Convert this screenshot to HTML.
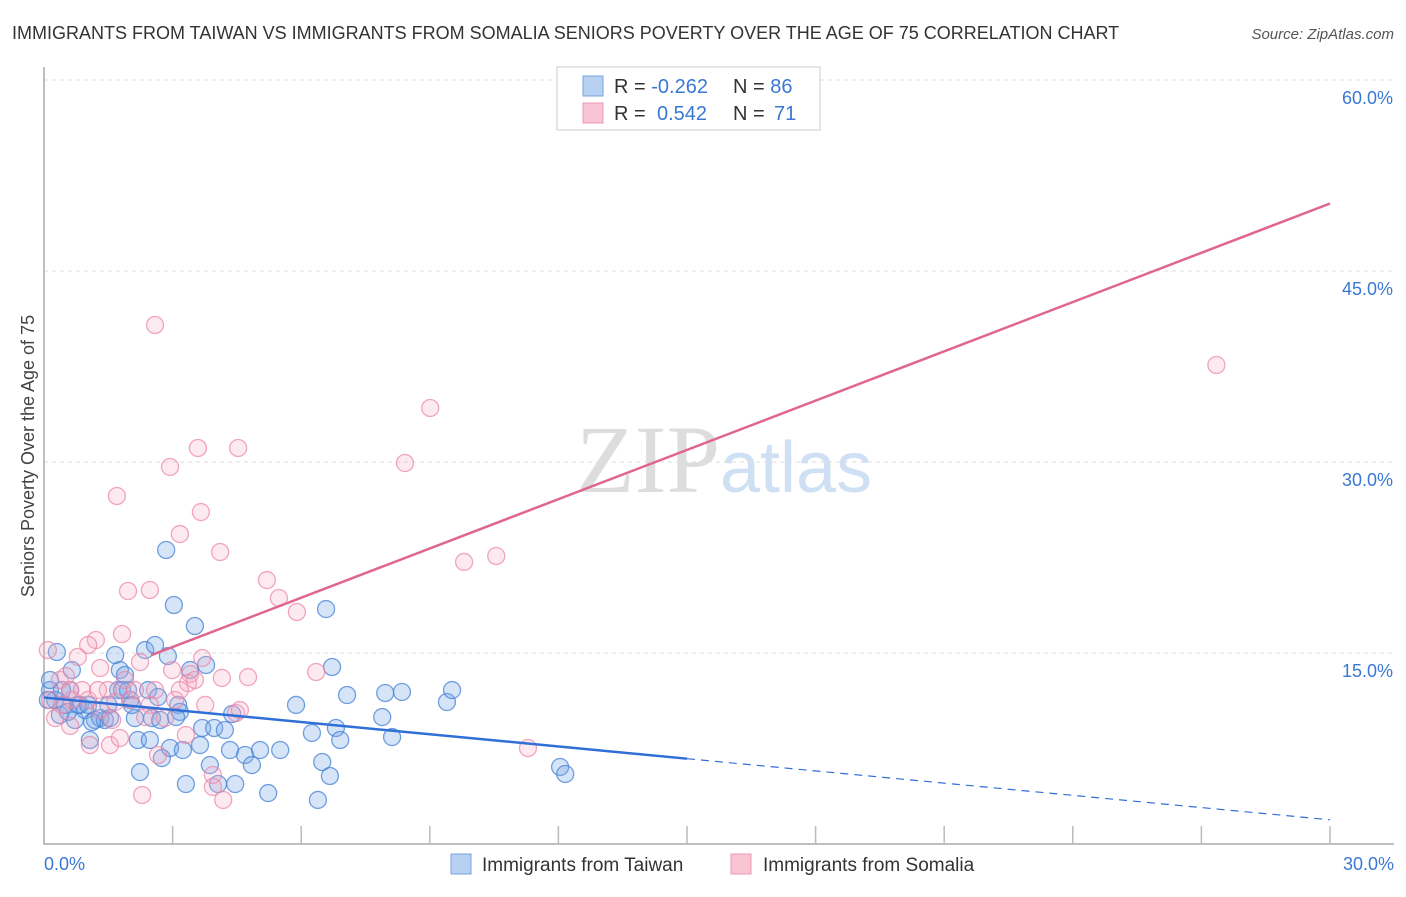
<!DOCTYPE html>
<html><head><meta charset="utf-8"><style>
body{margin:0;background:#fff;font-family:"Liberation Sans",sans-serif}
#c{position:relative;width:1406px;height:892px}
</style></head><body>
<div id="c">
<svg id="s" width="1406" height="892">
<text x="12" y="39" font-size="18" fill="#333">IMMIGRANTS FROM TAIWAN VS IMMIGRANTS FROM SOMALIA SENIORS POVERTY OVER THE AGE OF 75 CORRELATION CHART</text>
<text x="1394" y="39" font-size="15" fill="#555" font-style="italic" text-anchor="end">Source: ZipAtlas.com</text>
<text x="34" y="456" font-size="18" fill="#444" text-anchor="middle" transform="rotate(-90 34 456)">Seniors Poverty Over the Age of 75</text>
<text x="720" y="492" font-size="96" fill="#ddd" font-family="Liberation Serif,serif" text-anchor="end">ZIP</text>
<text x="720" y="492" font-size="72" fill="#cfe0f4">atlas</text>
<g id="grid"></g><g id="axes"></g><g id="pts"></g><g id="lines"></g>
<g>
<rect x="557" y="67" width="263" height="63" fill="#fff" stroke="#ccc"/>
<rect x="583" y="76" width="20" height="20" fill="#b8d0f2" stroke="#7aa3e0"/>
<rect x="583" y="103" width="20" height="20" fill="#f8c4d4" stroke="#eb98b4"/>
<text x="614" y="93" font-size="20" fill="#333">R = <tspan fill="#3a78d4">-0.262</tspan><tspan x="733">N = </tspan><tspan fill="#3a78d4">86</tspan></text>
<text x="614" y="120" font-size="20" fill="#333">R = <tspan x="657" fill="#3a78d4">0.542</tspan><tspan x="733">N = </tspan><tspan x="774" fill="#3a78d4">71</tspan></text>
</g>
<g>
<rect x="451" y="854" width="20" height="20" fill="#b8d0f2" stroke="#7aa3e0"/>
<text x="482" y="871" font-size="19" fill="#333">Immigrants from Taiwan</text>
<rect x="731" y="854" width="20" height="20" fill="#f8c4d4" stroke="#eb98b4"/>
<text x="763" y="871" font-size="19" fill="#333">Immigrants from Somalia</text>
</g>
</svg></div>
<script>
const yTicks=[15,30,45,60];
const xTickLabels=["0.0%","30.0%"];
const taiwanX=[0.30,0.14,0.26,0.37,0.49,0.61,0.65,0.72,0.84,0.96,1.07,1.19,1.31,1.42,1.54,1.66,1.73,1.77,1.89,1.96,2.01,2.12,2.19,2.24,2.36,2.43,2.47,2.52,2.59,2.66,2.71,2.75,2.85,2.94,3.03,3.13,3.17,3.24,3.31,3.41,3.52,3.64,3.69,3.87,3.97,4.06,4.22,4.34,4.46,4.69,4.85,5.04,5.23,5.51,5.88,6.25,6.39,6.49,6.58,6.67,6.72,6.81,6.91,7.07,7.89,7.96,8.12,8.35,9.40,9.52,12.04,12.16,0.14,0.09,0.42,0.56,0.79,1.03,1.12,1.50,1.82,2.05,2.89,3.08,3.78,4.39];
const taiwanY=[15.08,12.09,11.31,10.13,10.92,12.09,13.66,9.74,10.92,10.52,8.17,9.74,9.89,9.74,9.89,14.84,12.09,13.66,13.27,12.09,11.31,9.89,8.17,5.65,15.23,12.09,8.17,9.89,15.63,11.54,9.74,6.75,23.09,7.54,18.77,10.92,10.37,7.38,4.71,13.66,17.12,7.77,9.11,6.20,9.11,4.71,8.95,7.38,4.71,6.99,6.20,7.38,4.00,7.38,10.92,8.72,3.46,6.44,18.45,5.34,13.90,9.11,8.17,11.70,9.97,11.86,8.40,11.94,11.15,12.09,6.05,5.50,12.88,11.31,12.09,10.37,10.92,10.92,9.58,10.92,12.09,10.92,14.76,9.97,14.06,10.21];
const somaliaX=[2.59,14.04,27.35,9.01,8.42,3.59,4.53,2.94,1.70,3.66,3.17,4.11,9.80,10.55,1.96,2.47,5.20,5.48,5.90,1.82,1.21,1.03,0.09,0.79,1.31,2.24,2.99,3.41,3.69,4.76,4.15,6.35,0.37,0.61,0.89,1.49,2.01,2.47,3.06,3.36,3.76,2.82,4.48,0.26,0.61,1.07,1.54,1.77,2.66,3.31,3.94,3.94,4.18,2.29,11.29,0.14,0.42,1.31,1.89,3.52,2.36,1.59,1.66,1.03,0.65,3.17,2.59,4.57,1.26,2.12,0.51];
const somaliaY=[40.76,60.0,37.62,34.24,29.92,31.10,31.10,29.61,27.33,26.07,24.34,22.93,22.15,22.62,19.87,19.95,20.73,19.32,18.22,16.49,16.02,15.63,15.23,14.69,13.82,14.29,13.66,13.35,14.61,13.11,13.04,13.51,12.88,12.09,12.09,12.09,11.31,10.92,11.31,12.64,10.92,9.89,10.29,9.89,9.27,7.77,7.77,8.32,6.99,8.56,5.42,4.48,3.46,3.85,7.54,11.31,10.92,10.52,12.88,12.88,9.97,9.74,11.15,11.31,11.31,12.09,12.09,10.52,12.09,12.09,13.19];
const taiwanTrend=[11.5,1.9];
const somaliaTrend=[11.6,50.3];
const X=v=>44+v/30*1286, Y=v=>844-v/15*191;
const NS="http://www.w3.org/2000/svg";
function mk(p,t,a){const e=document.createElementNS(NS,t);for(const k in a)e.setAttribute(k,a[k]);document.getElementById(p).appendChild(e);return e;}
yTicks.forEach(t=>{
const g=mk('grid','line',{x1:44,x2:1394,y1:Y(t),y2:Y(t),stroke:'#ddd','stroke-dasharray':'4,4'});


const l=mk('grid','text',{x:1393,y:Y(t)+24,'font-size':18,fill:'#3a78d4','text-anchor':'end'});
l.textContent=t.toFixed(1)+'%';


});
const ax=mk('axes','path',{d:'M44 67V844H1394',fill:'none',stroke:'#aaa','stroke-width':1.5});


for(let i=1;i<=10;i++){const t=mk('axes','line',{x1:X(i*3),x2:X(i*3),y1:826,y2:844,stroke:'#bbb','stroke-width':1.5});

}
[[0,44,'start'],[30,1394,'end']].forEach((d,i)=>{const t=mk('axes','text',{x:d[1],y:870,'font-size':18,fill:'#3a78d4','text-anchor':d[2]});t.textContent=xTickLabels[i];

});
function pts(xs,ys,f,s,n){xs.forEach((x,i)=>{const c=mk('pts','circle',{cx:X(x),cy:Y(ys[i]),r:8.5,fill:f,stroke:s,'stroke-width':1.3});

});}
pts(taiwanX,taiwanY,'rgba(120,165,230,0.3)','rgba(70,130,215,0.75)','taiwan-point');
pts(somaliaX,somaliaY,'rgba(245,170,195,0.25)','rgba(235,130,165,0.7)','somalia-point');
const by=x=>taiwanTrend[0]+(taiwanTrend[1]-taiwanTrend[0])*x/30;
let l1=mk('lines','line',{x1:X(0),y1:Y(by(0)),x2:X(15),y2:Y(by(15)),stroke:'#2f6fd6','stroke-width':2.5});


let l2=mk('lines','line',{x1:X(15),y1:Y(by(15)),x2:X(30),y2:Y(by(30)),stroke:'#2f6fd6','stroke-width':1.2,'stroke-dasharray':'8,6'});


const sy=x=>somaliaTrend[0]+(somaliaTrend[1]-somaliaTrend[0])*x/30;
let l3=mk('lines','line',{x1:X(2.5),y1:Y(sy(2.5)),x2:X(30),y2:Y(sy(30)),stroke:'#e0658f','stroke-width':2.5});


</script>
</body></html>
